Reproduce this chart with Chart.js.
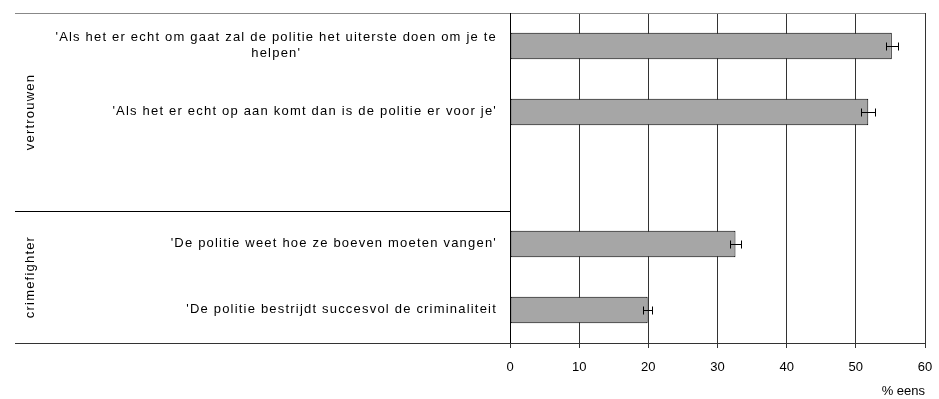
<!DOCTYPE html>
<html>
<head>
<meta charset="utf-8">
<script src="https://cdn.jsdelivr.net/npm/chart.js@4"></script>
<style>
  html, body { margin: 0; padding: 0; background: #fff; }
  #wrap { width: 939px; height: 399px; }
</style>
</head>
<body>
<div id="wrap"><canvas id="policeChart" width="939" height="399"></canvas></div>
<script>
// statements (empty slot keeps the gap at the end of the first group)
const statements = [
  ["'Als het er echt om gaat zal de politie het uiterste doen om je te", "helpen'"],
  "'Als het er echt op aan komt dan is de politie er voor je'",
  "",
  "'De politie weet hoe ze boeven moeten vangen'",
  "'De politie bestrijdt succesvol de criminaliteit"
];
const agreePct = [55.2, 51.8, null, 32.6, 19.9];
const agreeErr = [0.9, 1.0, null, 0.8, 0.7];
const groupNames = ['vertrouwen', 'crimefighter'];
const groupFrom = [0, 3];
const groupTo = [2, 4];
const xTicks = [0, 10, 20, 30, 40, 50, 60];

const FONT = '"Liberation Sans", Arial, sans-serif';
const FRAME_LEFT = 15;

const decor = {
  id: 'decor',
  afterDatasetsDraw(chart) {
    const { ctx, scales: { x, y } } = chart;
    ctx.save();
    ctx.strokeStyle = '#000';
    ctx.lineWidth = 1;
    // error bars
    agreePct.forEach((v, i) => {
      if (v == null) return;
      const cy = Math.round(y.getPixelForValue(i)) + 0.5;
      const x0 = Math.round(x.getPixelForValue(v - agreeErr[i])) + 0.5;
      const x1 = Math.round(x.getPixelForValue(v + agreeErr[i])) + 0.5;
      ctx.beginPath();
      ctx.moveTo(x0, cy); ctx.lineTo(x1, cy);
      ctx.moveTo(x0, cy - 4); ctx.lineTo(x0, cy + 4);
      ctx.moveTo(x1, cy - 4); ctx.lineTo(x1, cy + 4);
      ctx.stroke();
    });
    ctx.restore();
  },
  afterDraw(chart) {
    const { ctx, chartArea: a, scales: { y } } = chart;
    const step = (a.bottom - a.top) / statements.length;
    ctx.save();
    ctx.lineWidth = 1;
    // frame: top, bottom, value axis line
    ctx.strokeStyle = '#888';
    ctx.beginPath();
    ctx.moveTo(FRAME_LEFT, Math.round(a.top) + 0.5);
    ctx.lineTo(a.right, Math.round(a.top) + 0.5);
    ctx.stroke();
    ctx.strokeStyle = '#333';
    ctx.beginPath();
    ctx.moveTo(FRAME_LEFT, Math.round(a.bottom) + 0.5);
    ctx.lineTo(a.right, Math.round(a.bottom) + 0.5);
    ctx.stroke();
    ctx.strokeStyle = '#000';
    ctx.beginPath();
    ctx.moveTo(Math.round(a.left) + 0.5, a.top);
    ctx.lineTo(Math.round(a.left) + 0.5, a.bottom);
    ctx.stroke();
    // separators between groups
    for (let g = 0; g < groupNames.length - 1; g++) {
      const sy = Math.round(a.top + (groupTo[g] + 1) * step) + 0.5;
      ctx.beginPath();
      ctx.moveTo(FRAME_LEFT, sy);
      ctx.lineTo(a.left, sy);
      ctx.stroke();
    }
    // statement labels, lines centred within each block
    ctx.fillStyle = '#000';
    ctx.font = '13px ' + FONT;
    ctx.letterSpacing = '1.2px';
    ctx.textBaseline = 'middle';
    ctx.textAlign = 'center';
    const lineH = 16;
    statements.forEach((lab, i) => {
      const lines = Array.isArray(lab) ? lab : [lab];
      if (!lines[0]) return;
      const w = Math.max(...lines.map(l => ctx.measureText(l).width));
      const cx = a.left - 13 - w / 2;
      const cy = y.getPixelForValue(i) - (lines.length - 1) * lineH / 2 - 1;
      lines.forEach((l, k) => ctx.fillText(l, cx, cy + k * lineH));
    });
    // rotated group names
    groupNames.forEach((name, g) => {
      const top = a.top + groupFrom[g] * step;
      const bot = a.top + (groupTo[g] + 1) * step;
      ctx.save();
      ctx.translate(30, (top + bot) / 2);
      ctx.rotate(-Math.PI / 2);
      ctx.fillText(name, 0, 0);
      ctx.restore();
    });
    ctx.letterSpacing = '0px';
    ctx.restore();
  }
};

new Chart(document.getElementById('policeChart'), {
  type: 'bar',
  data: {
    labels: statements,
    datasets: [{
      data: agreePct,
      backgroundColor: '#a6a6a6',
      borderColor: '#000',
      borderWidth: 1,
      borderSkipped: false,
      barPercentage: 0.4,
      categoryPercentage: 1.0
    }]
  },
  options: {
    indexAxis: 'y',
    responsive: false,
    animation: false,
    layout: { padding: { left: 510, right: 14, top: 13, bottom: 0 } },
    plugins: { legend: { display: false }, tooltip: { enabled: false } },
    scales: {
      y: { display: false },
      x: {
        min: xTicks[0],
        max: xTicks[xTicks.length - 1],
        afterBuildTicks(scale) { scale.ticks = xTicks.map(v => ({ value: v })); },
        afterFit(scale) {
          scale.height = 56;
          scale.paddingLeft = 0;
          scale.paddingRight = 0;
        },
        grid: { color: '#333', lineWidth: 1, tickLength: 5 },
        border: { color: '#333' },
        ticks: { color: '#000', font: { family: FONT, size: 13 }, padding: 12, maxRotation: 0 },
        title: {
          display: true,
          text: '% eens',
          align: 'end',
          color: '#000',
          font: { family: FONT, size: 13 },
          padding: { top: 3, bottom: 0 }
        }
      }
    }
  },
  plugins: [decor]
});
</script>
</body>
</html>
